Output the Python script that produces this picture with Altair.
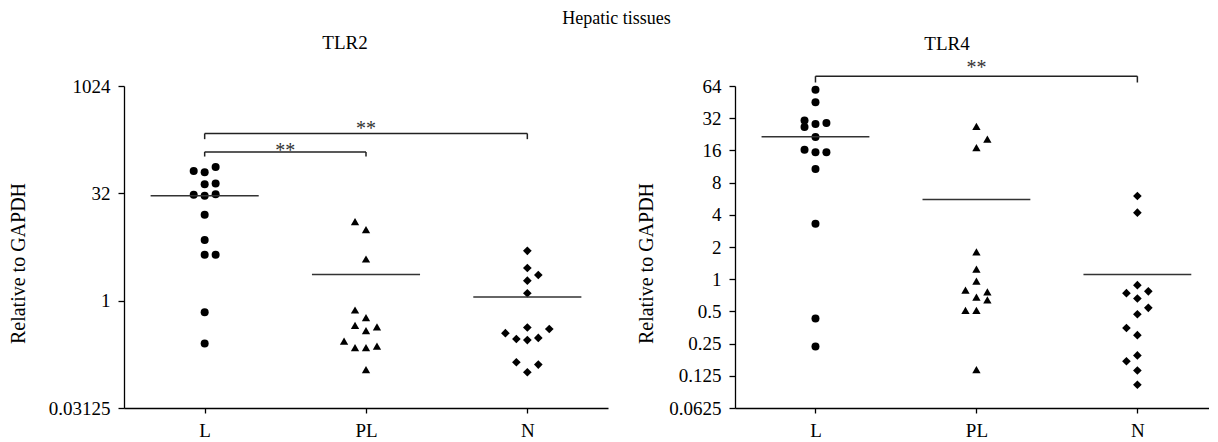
import altair as alt
import pandas as pd

FONT = "Liberation Serif"
groups = ["L", "PL", "N"]
shapes = ["circle", "triangle-up", "diamond"]

# ---- TLR2 (relative to GAPDH) ----
tlr2_L = [66, 63, 75, 43, 44, 30.5, 29.5, 31, 16, 7.1, 4.4, 4.4, 0.69, 0.25]
tlr2_L_dodge = [-1, 0, 1, 0, 1, -1, 0, 1, 0, 0, 0, 1, 0, 0]
tlr2_PL = [12.8, 9.9, 3.84, 0.74, 0.58, 0.45, 0.38, 0.43, 0.27, 0.22, 0.22, 0.23, 0.108]
tlr2_PL_dodge = [-1, 0, 0, -1, 0, -1, 0, 1, -2, -1, 0, 1, 0]
tlr2_N = [5.0, 2.87, 2.29, 1.91, 1.27, 0.42, 0.35, 0.29, 0.28, 0.30, 0.40, 0.137, 0.099, 0.127]
tlr2_N_dodge = [0, 0, 1, 0, 0, 0, -2, -1, 0, 1, 2, -1, 0, 1]
tlr2_ticks = [0.03125, 1, 32, 1024]
# significance brackets: (from, to, bar level, tick end level, star level)
tlr2_brackets = [("L", "PL", 122, 105, 148), ("L", "N", 221, 184, 298)]

# ---- TLR4 (relative to GAPDH) ----
tlr4_L = [59, 45, 30.5, 26.5, 28.2, 28.8, 21.4, 16.2, 15.4, 15.4, 10.7, 3.3, 0.43, 0.235]
tlr4_L_dodge = [0, 0, -1, -1, 0, 1, 0, -1, 0, 1, 0, 0, 0, 0]
tlr4_PL = [26.8, 20.4, 17.0, 1.80, 1.24, 0.96, 0.79, 0.76, 0.68, 0.64, 0.51, 0.51, 0.143]
tlr4_PL_dodge = [0, 1, 0, 0, 0, 0, -1, 1, 0, 1, -1, 0, 0]
tlr4_N = [6.0, 4.19, 0.88, 0.74, 0.66, 0.77, 0.54, 0.47, 0.35, 0.30, 0.194, 0.171, 0.14, 0.103]
tlr4_N_dodge = [0, 0, 0, -1, 0, 1, 1, 0, -1, 0, 0, -1, 0, 0]
tlr4_ticks = [0.0625, 0.125, 0.25, 0.5, 1, 2, 4, 8, 16, 32, 64]
tlr4_brackets = [("L", "N", 79, 69, 106)]

DODGE = 0.068
HALF = 0.335


def build(vals, dodges, brackets):
    pts, means = [], []
    for i, (vs, ds) in enumerate(zip(vals, dodges)):
        for v, d in zip(vs, ds):
            pts.append({"group": groups[i], "value": v, "x": i + 0.5 + d * DODGE})
        means.append({"x": i + 0.5 - HALF, "x2": i + 0.5 + HALF, "value": sum(vs) / len(vs)})
    segs, stars = [], []
    for a, b, top, tick, star in brackets:
        xa = groups.index(a) + 0.5
        xb = groups.index(b) + 0.5
        segs.append({"x": xa, "x2": xb, "value": top, "value2": top})
        segs.append({"x": xa, "x2": xa, "value": top, "value2": tick})
        segs.append({"x": xb, "x2": xb, "value": top, "value2": tick})
        stars.append({"x": (xa + xb) / 2, "value": star, "t": "**"})
    return pd.DataFrame(pts), pd.DataFrame(means), pd.DataFrame(segs), pd.DataFrame(stars)


def panel(title, vals, dodges, brackets, ydomain, yticks, xmax, width, title_x, tdx, toff):
    pts, means, segs, stars = build(vals, dodges, brackets)
    xs = alt.Scale(domain=[0, xmax], nice=False, zero=False)
    ys = alt.Scale(type="log", base=2, domain=ydomain, nice=False)
    xaxis = alt.Axis(values=[0.5, 1.5, 2.5],
                     labelExpr="datum.value < 1 ? 'L' : (datum.value < 2 ? 'PL' : 'N')",
                     title=None, tickSize=5, labelPadding=8, labelAngle=0, grid=False)
    yaxis = alt.Axis(values=yticks, format="~g", title="Relative to GAPDH", tickSize=6,
                     labelPadding=8, titleX=title_x, titleY=177, titleAngle=-90,
                     titleBaseline="middle", titleAlign="center", grid=False)
    X = lambda f: alt.X(f, scale=xs, axis=xaxis)
    Y = lambda f: alt.Y(f, scale=ys, axis=yaxis)

    p = alt.Chart(pts).mark_point(filled=True, opacity=1, color="black").encode(
        x=X("x:Q"), y=Y("value:Q"),
        shape=alt.Shape("group:N", scale=alt.Scale(domain=groups, range=shapes), legend=None),
        size=alt.Size("group:O", scale=alt.Scale(domain=groups, range=[64, 75, 90]), legend=None),
    )
    m = alt.Chart(means).mark_rule(color="#333333", strokeWidth=1.5).encode(
        x=X("x:Q"), x2="x2:Q", y=Y("value:Q"))
    s = alt.Chart(segs).mark_rule(color="#222222", strokeWidth=1.5).encode(
        x=X("x:Q"), x2="x2:Q", y=Y("value:Q"), y2="value2:Q")
    t = alt.Chart(stars).mark_text(font=FONT, fontSize=20, baseline="alphabetic", dy=11,
                                   color="#333333").encode(
        x=X("x:Q"), y=Y("value:Q"), text="t:N")
    return alt.layer(p, m, s, t).properties(
        width=width, height=322,
        title=alt.TitleParams(title, font=FONT, fontSize=19, fontWeight="normal",
                              anchor="middle", frame="group", dx=tdx, offset=toff,
                              color="black"),
    )


left = panel("TLR2", [tlr2_L, tlr2_PL, tlr2_N], [tlr2_L_dodge, tlr2_PL_dodge, tlr2_N_dodge],
             tlr2_brackets, [0.03125, 1024], tlr2_ticks, 3, 484, -106, -21, 24)
right = panel("TLR4", [tlr4_L, tlr4_PL, tlr4_N], [tlr4_L_dodge, tlr4_PL_dodge, tlr4_N_dodge],
              tlr4_brackets, [0.0625, 64], tlr4_ticks, 2.945, 474, -89, -25, 4)

chart = alt.hconcat(left, right, spacing=28).properties(
    title=alt.TitleParams("Hepatic tissues", font=FONT, fontSize=18, fontWeight="normal",
                          anchor="middle", dx=8, offset=6, color="black"),
    padding={"top": 2, "left": 0, "right": 0, "bottom": 0},
).configure_view(stroke=None).configure_axis(
    domainColor="black", tickColor="black", labelColor="black", titleColor="black",
    labelFont=FONT, titleFont=FONT, labelFontSize=19, titleFontSize=20,
    titleFontWeight="normal", domainWidth=1.3, tickWidth=1.3,
)

chart.save("out.html", embed_options={"renderer": "svg", "actions": False})
